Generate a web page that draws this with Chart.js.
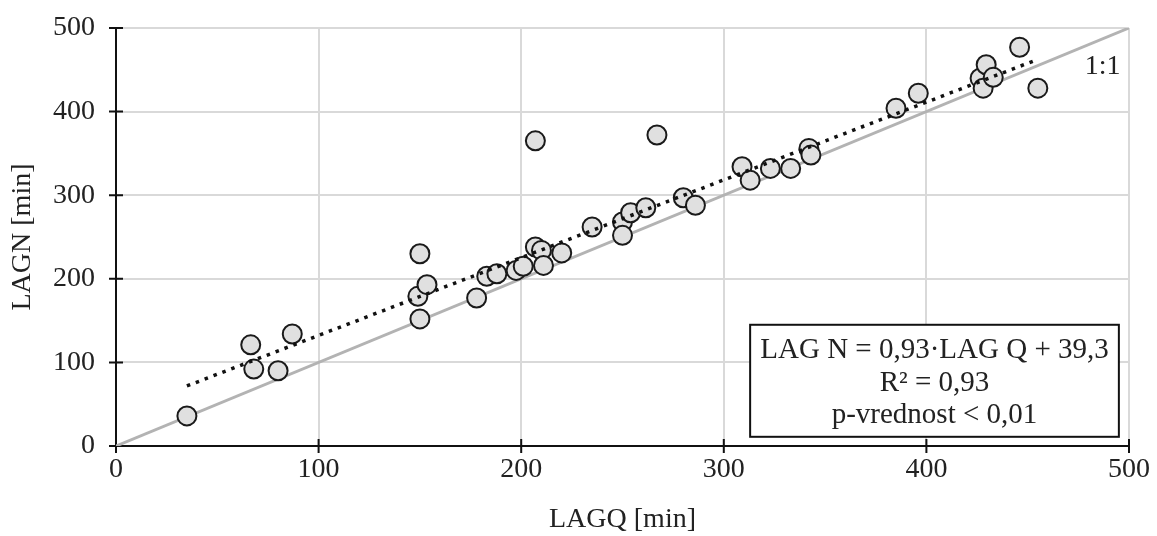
<!DOCTYPE html>
<html>
<head>
<meta charset="utf-8">
<script src="https://cdn.jsdelivr.net/npm/chart.js@4/dist/chart.umd.min.js"></script>
<style>
  body { margin: 0; background: #fff; }
  #lag { display: block; }
</style>
</head>
<body>
<canvas id="lag" width="1157" height="536"></canvas>
<script>
// LAG Q vs LAG N, minutes
const lagQ = [35, 66.5, 68, 80, 87, 149, 150, 150, 153.5, 178, 183, 188, 197.5, 201, 207, 207, 210, 211, 220,
  235, 250, 250, 254, 261.5, 267, 280, 286, 309, 313, 323, 333, 342, 343, 385, 396, 426.5, 428, 429.5, 433, 446, 455];
const lagN = [36, 121, 92, 90, 134, 179, 230, 152, 193, 177, 203, 206, 210, 215, 365, 238, 234, 216, 231,
  262, 268, 252, 279, 285, 372, 297, 288, 334, 318, 332, 332, 356, 348, 404, 422, 440, 428, 456, 441, 477, 428];

// regression from the stats box
const slope = 0.93;
const intercept = 39.3;
const statLines = ['LAG N = 0,93\u00b7LAG Q + 39,3', 'R\u00b2 = 0,93', 'p-vrednost < 0,01'];

const axisTicks = [0, 100, 200, 300, 400, 500];
const serif = "'Liberation Serif', 'Times New Roman', serif";

const points = lagQ.map((q, i) => ({x: q, y: lagN[i]}));
const qMin = Math.min(...lagQ), qMax = Math.max(...lagQ);
const trend = [qMin, qMax].map(q => ({x: q, y: slope * q + intercept}));

// black axes with excel-style crossing tick marks
const axesPlugin = {
  id: 'axes',
  beforeDatasetsDraw(chart) {
    const {ctx, scales: {x, y}} = chart;
    const x0 = x.getPixelForValue(0), y0 = y.getPixelForValue(0);
    ctx.save();
    ctx.strokeStyle = '#111';
    ctx.lineWidth = 2;
    ctx.beginPath();
    ctx.moveTo(x0, y.top);
    ctx.lineTo(x0, y.bottom);
    ctx.moveTo(x.left, y0);
    ctx.lineTo(x.right, y0);
    axisTicks.forEach(v => {
      const px = x.getPixelForValue(v), py = y.getPixelForValue(v);
      ctx.moveTo(px, y0 - 7);
      ctx.lineTo(px, y0 + 7);
      ctx.moveTo(x0 - 7, py);
      ctx.lineTo(x0 + 7, py);
    });
    ctx.stroke();
    ctx.restore();
  },
  afterDatasetsDraw(chart) {
    const {ctx, scales: {x, y}} = chart;
    ctx.save();
    // 1:1 label
    ctx.fillStyle = '#222';
    ctx.font = '28px ' + serif;
    ctx.textAlign = 'center';
    ctx.textBaseline = 'middle';
    ctx.fillText('1:1', x.getPixelForValue(487), y.getPixelForValue(454));

    // stats box
    const l = x.getPixelForValue(313), r = x.getPixelForValue(495);
    const t = y.getPixelForValue(145), b = y.getPixelForValue(11);
    ctx.fillStyle = '#fff';
    ctx.fillRect(l, t, r - l, b - t);
    ctx.strokeStyle = '#111';
    ctx.lineWidth = 2;
    ctx.strokeRect(l, t, r - l, b - t);
    ctx.fillStyle = '#222';
    ctx.font = '29px ' + serif;
    const cx = (l + r) / 2;
    [26, 59, 91].forEach((dy, i) => ctx.fillText(statLines[i], cx, t + dy));
    ctx.restore();
  }
};

new Chart(document.getElementById('lag'), {
  type: 'scatter',
  data: {
    datasets: [
      {
        type: 'line',
        data: trend,
        borderColor: '#111',
        borderWidth: 3.5,
        borderDash: [3.5, 6],
        pointRadius: 0,
        fill: false,
        order: 0
      },
      {
        data: points,
        backgroundColor: '#e0e0e0',
        borderColor: '#1a1a1a',
        borderWidth: 2,
        pointRadius: 9.5,
        order: 1
      },
      {
        type: 'line',
        data: [{x: 0, y: 0}, {x: 500, y: 500}],
        borderColor: '#b3b3b3',
        borderWidth: 3,
        pointRadius: 0,
        fill: false,
        order: 2
      }
    ]
  },
  options: {
    responsive: false,
    animation: false,
    layout: { padding: { top: 0, right: 26, left: 0, bottom: 0 } },
    plugins: {
      legend: { display: false },
      tooltip: { enabled: false }
    },
    scales: {
      x: {
        type: 'linear',
        min: 0,
        max: 500,
        afterFit: s => { s.height = 90; },
        afterBuildTicks: s => { s.ticks = axisTicks.map(v => ({value: v})); },
        grid: { color: '#d9d9d9', lineWidth: 2, drawTicks: false },
        border: { display: false },
        ticks: { padding: 7, color: '#222', font: { family: serif, size: 28 } },
        title: {
          display: true,
          text: 'LAGQ [min]',
          color: '#222',
          font: { family: serif, size: 28 },
          padding: { top: 0, bottom: 0 }
        }
      },
      y: {
        type: 'linear',
        min: 0,
        max: 500,
        afterFit: s => { s.width = 116; s.paddingTop = 28; s.paddingBottom = 0; },
        afterBuildTicks: s => { s.ticks = axisTicks.map(v => ({value: v})); },
        grid: { color: '#d9d9d9', lineWidth: 2, drawTicks: false },
        border: { display: false },
        ticks: { padding: 21, color: '#222', font: { family: serif, size: 28 } },
        title: {
          display: true,
          text: 'LAGN [min]',
          color: '#222',
          font: { family: serif, size: 28 },
          padding: { top: 6, bottom: 0 }
        }
      }
    }
  },
  plugins: [axesPlugin]
});
</script>
</body>
</html>
